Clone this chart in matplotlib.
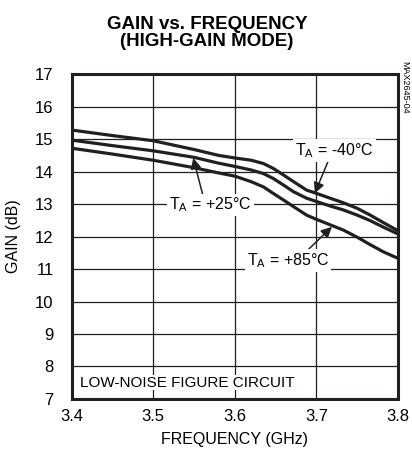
import numpy as np
import matplotlib
matplotlib.use("Agg")
import matplotlib.pyplot as plt

plt.rcParams['font.family'] = ['Liberation Sans', 'DejaVu Sans']

# frequency (GHz) and gain (dB)
freq = [3.40, 3.45, 3.50, 3.55, 3.58, 3.60, 3.62, 3.635, 3.647, 3.66, 3.672,
        3.688, 3.70, 3.717, 3.733, 3.75, 3.766, 3.782, 3.80]
gain_m40 = [15.28, 15.11, 14.95, 14.68, 14.50, 14.42, 14.35, 14.25, 14.10, 13.89, 13.69,
            13.43, 13.33, 13.18, 13.04, 12.87, 12.66, 12.43, 12.18]
gain_p25 = [14.97, 14.80, 14.64, 14.44, 14.26, 14.16, 14.05, 13.94, 13.79, 13.58, 13.38,
            13.18, 13.08, 12.94, 12.82, 12.66, 12.49, 12.29, 12.08]
gain_p85 = [14.72, 14.54, 14.35, 14.12, 13.96, 13.86, 13.69, 13.53, 13.33, 13.12, 12.92,
            12.66, 12.53, 12.36, 12.20, 11.98, 11.75, 11.53, 11.33]

x_ticks = [3.4, 3.5, 3.6, 3.7, 3.8]
y_ticks = list(range(7, 18))

fig = plt.figure(figsize=(4.12, 4.58), dpi=100)
ax = fig.add_axes([0.174, 0.129, 0.792, 0.709])

for g in (gain_m40, gain_p25, gain_p85):
    ax.plot(freq, g, color='#231f20', lw=2.3, solid_capstyle='butt',
            solid_joinstyle='round', zorder=3)

ax.set_xlim(3.4, 3.8)
ax.set_ylim(7, 17)
ax.set_xticks(x_ticks)
ax.set_xticklabels([f"{v:.1f}" for v in x_ticks])
ax.set_yticks(y_ticks)
ax.tick_params(length=0, labelsize=12)
ax.tick_params(axis='x', pad=7)
ax.tick_params(axis='y', pad=13)
ax.grid(True, color='#231f20', lw=0.9)
for s in ax.spines.values():
    s.set_linewidth(2.2)
    s.set_color('#231f20')

ax.set_xlabel('FREQUENCY (GHz)', fontsize=11.5, labelpad=6)
ax.set_ylabel('GAIN (dB)', fontsize=11.5, labelpad=10)
fig.text(0.502, 0.929, 'GAIN vs. FREQUENCY\n(HIGH-GAIN MODE)', ha='center', va='center',
         fontsize=13.5, fontweight='bold', linespacing=1.0)

box = dict(facecolor='white', edgecolor='none', pad=1.5)
arrow = dict(arrowstyle='-|>', color='#231f20', lw=1.1, mutation_scale=16, shrinkA=0, shrinkB=0)

ax.annotate('', xy=(3.698, 13.33), xytext=(3.714, 14.30), arrowprops=arrow, zorder=4)
ax.text(3.722, 14.66, r'T$_\mathregular{A}$ = -40°C', ha='center', va='center', fontsize=11.5,
        bbox=box, zorder=5)

ax.annotate('', xy=(3.549, 14.42), xytext=(3.561, 13.25), arrowprops=arrow, zorder=4)
ax.text(3.57, 12.97, r'T$_\mathregular{A}$ = +25°C', ha='center', va='center', fontsize=11.5,
        bbox=box, zorder=5)

ax.annotate('', xy=(3.719, 12.30), xytext=(3.688, 11.55), arrowprops=arrow, zorder=4)
ax.text(3.665, 11.25, r'T$_\mathregular{A}$ = +85°C', ha='center', va='center', fontsize=11.5,
        bbox=box, zorder=5)

ax.text(3.41, 7.5, 'LOW-NOISE FIGURE CIRCUIT', ha='left', va='center', fontsize=11,
        bbox=dict(facecolor='white', edgecolor='none', pad=0.5), zorder=5)

fig.text(0.982, 0.867, 'MAX2645-04', rotation=270, ha='center', va='top', fontsize=6.5)

fig.savefig('out.png', dpi=100)
